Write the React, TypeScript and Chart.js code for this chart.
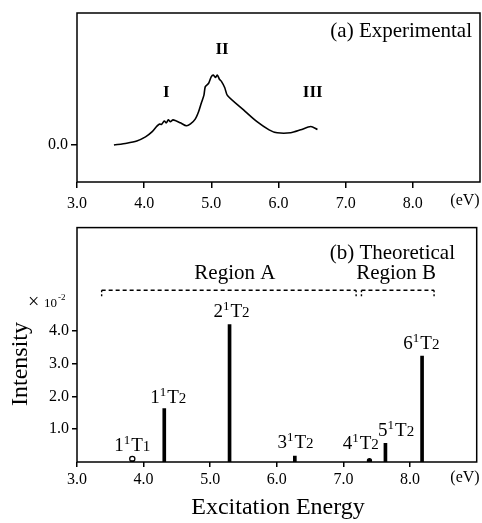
import React, { useEffect, useRef } from 'react';
import { Chart, registerables } from 'chart.js';

Chart.register(...registerables);

// ---------- data ----------
// (a) experimental spectrum
const expEnergy = [3.55, 3.74, 3.89, 4.02, 4.12, 4.19, 4.23, 4.26, 4.30, 4.33, 4.36, 4.39, 4.43, 4.54, 4.63, 4.69, 4.76, 4.81, 4.85, 4.89, 4.91, 4.96, 5.0, 5.03, 5.06, 5.09, 5.12, 5.15, 5.2, 5.24, 5.48, 5.68, 5.86, 5.98, 6.18, 6.33, 6.48, 6.58];
const expIntensity = [0.0, 0.05, 0.11, 0.22, 0.36, 0.51, 0.57, 0.56, 0.65, 0.6, 0.68, 0.63, 0.68, 0.6, 0.52, 0.57, 0.7, 0.9, 1.13, 1.35, 1.58, 1.67, 1.85, 1.89, 1.83, 1.89, 1.78, 1.72, 1.55, 1.34, 0.95, 0.63, 0.41, 0.33, 0.33, 0.41, 0.5, 0.42];
const peakNames = ['I', 'II', 'III'];
const peakEnergy = [4.33, 5.16, 6.51];
const peakLevel = [1.41, 2.57, 1.41];

// (b) theoretical stick spectrum (intensity x 10^-2)
const stateNumber = ['1', '1', '2', '3', '4', '5', '6'];
const stateSymmetry = ['1', '2', '2', '2', '2', '2', '2'];
const stateEnergy = [3.83, 4.31, 5.29, 6.27, 7.39, 7.63, 8.18];
const stateIntensity = [0.04, 1.63, 4.19, 0.18, 0.04, 0.57, 3.23];
const weakEnergy = [3.83, 7.39];
const weakIntensity = [0.09, 0.04];
const regionNames = ['Region A', 'Region B'];
const regionStart = [3.37, 7.27];
const regionEnd = [7.19, 8.36];

// tick labels
const xTicks = [3, 4, 5, 6, 7, 8];
const yTicksTop = [0];
const yTicksBottom = [1, 2, 3, 4];

// annotation placement (label anchors in data units)
const stateLabelEnergy = [3.83, 4.37, 5.32, 6.28, 7.26, 7.79, 8.17];
const stateLabelLevel = [0.33, 1.81, 4.43, 0.42, 0.39, 0.78, 3.44];
const regionLabelEnergy = [5.37, 7.79];
const regionLabelLevel = 5.58;
const bracketLevel = 5.24;
const bracketDrop = 0.21;

const SERIF = '"Liberation Serif", "Times New Roman", "DejaVu Serif", serif';

function drawState(ctx: CanvasRenderingContext2D, cx: number, by: number, n: string, sub: string) {
  const big = `19px ${SERIF}`;
  const sup = `13px ${SERIF}`;
  const small = `15px ${SERIF}`;
  ctx.font = big;
  const wn = ctx.measureText(n).width;
  const wt = ctx.measureText('T').width;
  ctx.font = sup;
  const ws = ctx.measureText('1').width;
  ctx.font = small;
  const wsub = ctx.measureText(sub).width;
  let x = cx - (wn + ws + wt + wsub + 1) / 2;
  ctx.textAlign = 'left';
  ctx.textBaseline = 'alphabetic';
  ctx.font = big;
  ctx.fillText(n, x, by);
  x += wn;
  ctx.font = sup;
  ctx.fillText('1', x, by - 7);
  x += ws + 1;
  ctx.font = big;
  ctx.fillText('T', x, by);
  x += wt;
  ctx.font = small;
  ctx.fillText(sub, x, by);
}

const topPlugin = {
  id: 'topDeco',
  afterDraw(chart: any) {
    const { ctx, chartArea: a, scales } = chart;
    const x = scales.x, y = scales.y;
    ctx.save();
    ctx.strokeStyle = '#000';
    ctx.lineWidth = 1.5;
    ctx.strokeRect(a.left, a.top, a.right - a.left, a.bottom - a.top);
    ctx.fillStyle = '#000';
    ctx.font = `21px ${SERIF}`;
    ctx.textAlign = 'right';
    ctx.textBaseline = 'alphabetic';
    ctx.fillText('(a) Experimental', 472, 37);
    ctx.font = `bold 17px ${SERIF}`;
    ctx.textAlign = 'center';
    ctx.textBaseline = 'middle';
    peakNames.forEach((t, i) => {
      ctx.fillText(t, x.getPixelForValue(peakEnergy[i]), y.getPixelForValue(peakLevel[i]));
    });
    ctx.font = `16px ${SERIF}`;
    ctx.fillText('(eV)', 465, 201);
    ctx.restore();
  },
};

const bottomPlugin = {
  id: 'bottomDeco',
  afterDraw(chart: any) {
    const { ctx, chartArea: a, scales } = chart;
    const x = scales.x, y = scales.y;
    ctx.save();
    ctx.strokeStyle = '#000';
    ctx.lineWidth = 1.5;
    ctx.strokeRect(a.left, a.top, a.right - a.left, a.bottom - a.top);
    ctx.fillStyle = '#000';
    ctx.font = `21px ${SERIF}`;
    ctx.textAlign = 'right';
    ctx.textBaseline = 'alphabetic';
    ctx.fillText('(b) Theoretical', 455, 44);

    // region labels
    ctx.textAlign = 'center';
    regionNames.forEach((t, i) => {
      ctx.fillText(t, x.getPixelForValue(regionLabelEnergy[i]), y.getPixelForValue(regionLabelLevel));
    });

    // dashed brackets
    const by = y.getPixelForValue(bracketLevel);
    const dy = y.getPixelForValue(bracketLevel - bracketDrop);
    ctx.lineWidth = 1.4;
    regionNames.forEach((_, i) => {
      const x0 = x.getPixelForValue(regionStart[i]);
      const x1 = x.getPixelForValue(regionEnd[i]);
      ctx.setLineDash([4, 3]);
      ctx.beginPath();
      ctx.moveTo(x0, by);
      ctx.lineTo(x1, by);
      ctx.stroke();
      ctx.setLineDash([2, 2]);
      ctx.beginPath();
      ctx.moveTo(x0, by);
      ctx.lineTo(x0, dy);
      ctx.moveTo(x1, by);
      ctx.lineTo(x1, dy);
      ctx.stroke();
    });
    ctx.setLineDash([]);

    // state labels
    stateNumber.forEach((n, i) => {
      drawState(ctx, x.getPixelForValue(stateLabelEnergy[i]), y.getPixelForValue(stateLabelLevel[i]), n, stateSymmetry[i]);
    });

    // x 10^-2
    ctx.textAlign = 'left';
    ctx.textBaseline = 'alphabetic';
    ctx.font = `20px ${SERIF}`;
    ctx.fillText('\u00d7', 28, 93);
    ctx.font = `13px ${SERIF}`;
    ctx.fillText('10', 44, 92);
    ctx.font = `9px ${SERIF}`;
    ctx.fillText('-2', 58, 85);

    // axis titles
    ctx.font = `24px ${SERIF}`;
    ctx.textAlign = 'center';
    ctx.textBaseline = 'middle';
    ctx.save();
    ctx.translate(21, 149);
    ctx.rotate(-Math.PI / 2);
    ctx.fillText('Intensity', 0, 0);
    ctx.restore();
    ctx.textBaseline = 'alphabetic';
    ctx.fillText('Excitation Energy', 278, 299);
    ctx.font = `16px ${SERIF}`;
    ctx.textBaseline = 'middle';
    ctx.fillText('(eV)', 465, 263);
    ctx.restore();
  },
};

const tickFont = { family: SERIF, size: 16 };

export default function App() {
  const topRef = useRef<HTMLCanvasElement>(null);
  const botRef = useRef<HTMLCanvasElement>(null);

  useEffect(() => {
    const topChart = new Chart(topRef.current as HTMLCanvasElement, {
      type: 'line',
      data: {
        datasets: [
          {
            data: expEnergy.map((e, i) => ({ x: e, y: expIntensity[i] })),
            borderColor: '#000',
            borderWidth: 1.6,
            pointRadius: 0,
            tension: 0.25,
            fill: false,
          },
        ],
      },
      options: {
        responsive: false,
        animation: false,
        events: [],
        layout: { padding: { top: 13, right: 2, left: 0, bottom: 0 } },
        plugins: { legend: { display: false }, tooltip: { enabled: false } },
        scales: {
          x: {
            type: 'linear',
            min: 3,
            max: 9,
            afterBuildTicks: (s: any) => {
              s.ticks = xTicks.map((v) => ({ value: v }));
            },
            afterFit: (s: any) => {
              s.height = 33;
            },
            ticks: {
              callback: (v: any) => Number(v).toFixed(1),
              font: tickFont,
              color: '#000',
              padding: 6,
              maxRotation: 0,
              autoSkip: false,
            },
            grid: { drawOnChartArea: false, drawTicks: true, tickLength: 6, color: '#000', lineWidth: 1.5 },
            border: { display: false },
          },
          y: {
            min: -1,
            max: 3.57,
            afterBuildTicks: (s: any) => {
              s.ticks = yTicksTop.map((v) => ({ value: v }));
            },
            afterFit: (s: any) => {
              s.width = 77;
            },
            ticks: {
              callback: (v: any) => Number(v).toFixed(1),
              font: tickFont,
              color: '#000',
              padding: 3,
            },
            grid: { drawOnChartArea: false, drawTicks: true, tickLength: 6, color: '#000', lineWidth: 1.5 },
            border: { display: false },
          },
        },
      } as any,
      plugins: [topPlugin],
    });

    const botChart = new Chart(botRef.current as HTMLCanvasElement, {
      type: 'bar',
      data: {
        datasets: [
          {
            type: 'bar',
            data: stateEnergy.map((e, i) => ({ x: e, y: stateIntensity[i] })),
            backgroundColor: '#000',
            borderWidth: 0,
            barThickness: 3,
          } as any,
          {
            type: 'scatter',
            data: weakEnergy.map((e, i) => ({ x: e, y: weakIntensity[i] })),
            pointRadius: [2.6, 2],
            pointBackgroundColor: ['#fff', '#000'],
            pointBorderColor: '#000',
            pointBorderWidth: 1.3,
          } as any,
        ],
      },
      options: {
        responsive: false,
        animation: false,
        events: [],
        layout: { padding: { top: 10, right: 2, left: 0, bottom: 0 } },
        plugins: { legend: { display: false }, tooltip: { enabled: false } },
        scales: {
          x: {
            type: 'linear',
            min: 3,
            max: 9,
            offset: false,
            afterBuildTicks: (s: any) => {
              s.ticks = xTicks.map((v) => ({ value: v }));
            },
            afterFit: (s: any) => {
              s.height = 61;
            },
            ticks: {
              callback: (v: any) => Number(v).toFixed(1),
              font: tickFont,
              color: '#000',
              padding: 3,
              maxRotation: 0,
              autoSkip: false,
            },
            grid: { offset: false, drawOnChartArea: false, drawTicks: true, tickLength: 5, color: '#000', lineWidth: 1.5 },
            border: { display: false },
          },
          y: {
            min: 0,
            max: 7.15,
            afterBuildTicks: (s: any) => {
              s.ticks = yTicksBottom.map((v) => ({ value: v }));
            },
            afterFit: (s: any) => {
              s.width = 77;
            },
            ticks: {
              callback: (v: any) => Number(v).toFixed(1),
              font: tickFont,
              color: '#000',
              padding: 3,
            },
            grid: { drawOnChartArea: false, drawTicks: true, tickLength: 5, color: '#000', lineWidth: 1.5 },
            border: { display: false },
          },
        },
      } as any,
      plugins: [bottomPlugin],
    });

    return () => {
      topChart.destroy();
      botChart.destroy();
    };
  }, []);

  return (
    <div style={{ position: 'absolute', left: 0, top: 0, width: 482, height: 523, background: '#fff' }}>
      <canvas ref={topRef} width={482} height={215} style={{ position: 'absolute', left: 0, top: 0, width: 482, height: 215 }} />
      <canvas ref={botRef} width={482} height={308} style={{ position: 'absolute', left: 0, top: 215, width: 482, height: 308 }} />
    </div>
  );
}
